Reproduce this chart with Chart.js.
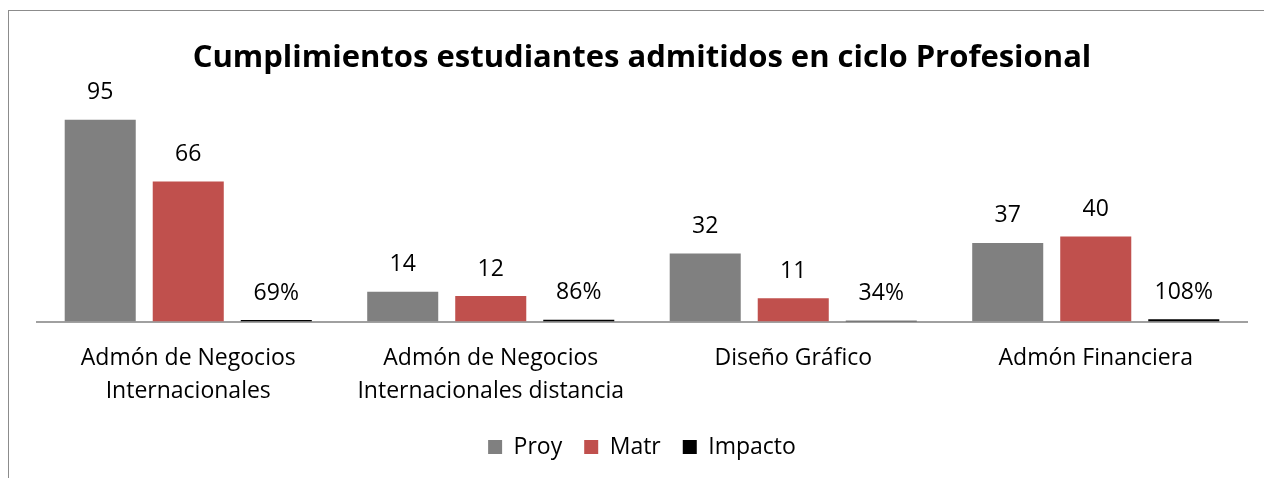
<!DOCTYPE html>
<html>
<head>
<meta charset="utf-8">
<script src="https://cdn.jsdelivr.net/npm/chart.js@4/dist/chart.umd.min.js"></script>
<style>
  html, body { margin: 0; padding: 0; background: #fff; }
  #wrap { width: 1264px; height: 478px; position: relative; }
</style>
</head>
<body>
<div id="wrap"><canvas id="grafico" width="1264" height="478"></canvas></div>
<script>
const categorias = [
    ['Admón de Negocios', 'Internacionales'],
    ['Admón de Negocios', 'Internacionales distancia'],
    'Diseño Gráfico',
    'Admón Financiera'
];
const proy = [95, 14, 32, 37];
const matr = [66, 12, 11, 40];
const impacto = [0.69, 0.86, 0.34, 1.08];

const fonte = "'Open Sans', 'Noto Sans', sans-serif";

// marco gris alrededor del grafico
const marco = {
    id: 'marco',
    beforeDraw(chart) {
        const ctx = chart.ctx;
        ctx.save();
        ctx.fillStyle = '#fff';
        ctx.fillRect(0, 0, chart.width, chart.height);
        ctx.strokeStyle = '#8c8c8c';
        ctx.lineWidth = 1;
        ctx.strokeRect(8.5, 10.5, 1300, 500);
        ctx.restore();
    }
};

// etiquetas encima de cada barra
const etiquetas = {
    id: 'etiquetas',
    afterDatasetsDraw(chart) {
        const ctx = chart.ctx;
        ctx.save();
        ctx.font = '23px ' + fonte;
        ctx.fillStyle = '#000';
        ctx.textAlign = 'center';
        ctx.textBaseline = 'middle';
        chart.data.datasets.forEach((ds, i) => {
            const meta = chart.getDatasetMeta(i);
            meta.data.forEach((barra, j) => {
                const v = ds.data[j];
                const texto = ds.label === 'Impacto' ? Math.round(v * 100) + '%' : String(v);
                ctx.fillText(texto, barra.x, barra.y - 27);
            });
        });
        ctx.restore();
    }
};

new Chart(document.getElementById('grafico'), {
    type: 'bar',
    data: {
        labels: categorias,
        datasets: [
            { label: 'Proy', data: proy, backgroundColor: '#808080' },
            { label: 'Matr', data: matr, backgroundColor: '#C0504D' },
            { label: 'Impacto', data: impacto, backgroundColor: '#000000' }
        ]
    },
    options: {
        responsive: false,
        animation: false,
        categoryPercentage: 0.873,
        barPercentage: 0.807,
        layout: { padding: { left: 37, right: 17, top: 0, bottom: 9.5 } },
        plugins: {
            title: {
                display: true,
                text: 'Cumplimientos estudiantes admitidos en ciclo Profesional',
                color: '#000',
                font: { family: fonte, size: 31, weight: 'bold' },
                padding: { top: 40, bottom: 32 }
            },
            legend: {
                position: 'bottom',
                labels: {
                    color: '#000',
                    font: { family: fonte, size: 23 },
                    boxWidth: 14,
                    boxHeight: 14,
                    padding: 22
                }
            },
            tooltip: { enabled: false }
        },
        scales: {
            x: {
                grid: { display: false, drawTicks: false },
                border: { display: true, color: '#a0a0a0', width: 2 },
                ticks: {
                    color: '#000',
                    font: { family: fonte, size: 23, lineHeight: '33px' },
                    padding: 20,
                    maxRotation: 0,
                    autoSkip: false
                },
                afterFit(scale) { scale.height -= 14; }
            },
            y: {
                display: false,
                min: 0,
                max: 100
            }
        }
    },
    plugins: [marco, etiquetas]
});
</script>
</body>
</html>
